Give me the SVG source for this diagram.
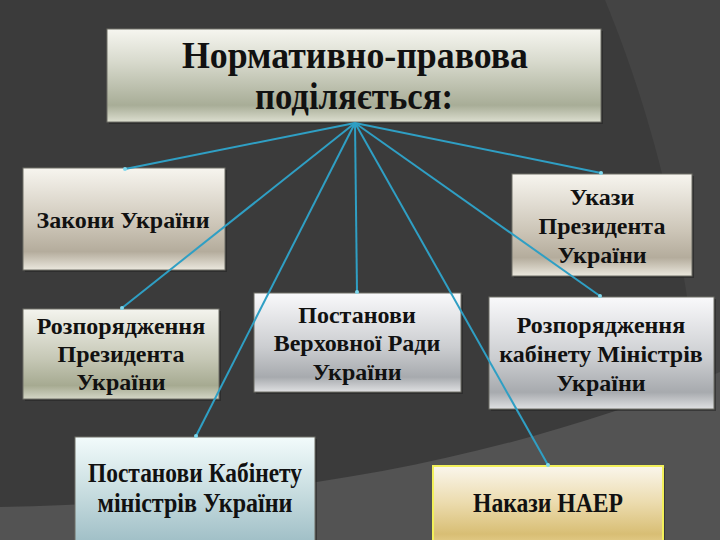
<svg xmlns="http://www.w3.org/2000/svg" width="720" height="540" viewBox="0 0 720 540">
  <defs>
    <linearGradient id="gTitle" x1="0" y1="0" x2="0" y2="1">
      <stop offset="0" stop-color="#f6f6f0"/>
      <stop offset="0.35" stop-color="#d8dacd"/>
      <stop offset="0.82" stop-color="#a8ad97"/>
      <stop offset="1" stop-color="#dcdecf"/>
    </linearGradient>
    <linearGradient id="gBeige" x1="0" y1="0" x2="0" y2="1">
      <stop offset="0" stop-color="#f7f5ef"/>
      <stop offset="0.55" stop-color="#cdc6b8"/>
      <stop offset="0.82" stop-color="#b4ac9c"/>
      <stop offset="1" stop-color="#ebe8de"/>
    </linearGradient>
    <linearGradient id="gGreen" x1="0" y1="0" x2="0" y2="1">
      <stop offset="0" stop-color="#f4f4ee"/>
      <stop offset="0.55" stop-color="#c6c8b6"/>
      <stop offset="0.85" stop-color="#a6aa91"/>
      <stop offset="1" stop-color="#d4d6c6"/>
    </linearGradient>
    <linearGradient id="gSilver" x1="0" y1="0" x2="0" y2="1">
      <stop offset="0" stop-color="#f9f9fb"/>
      <stop offset="0.55" stop-color="#cbcdd0"/>
      <stop offset="0.85" stop-color="#a7aaae"/>
      <stop offset="1" stop-color="#dfe0e2"/>
    </linearGradient>
    <linearGradient id="gBlue" x1="0" y1="0" x2="0" y2="1">
      <stop offset="0" stop-color="#f2fbfb"/>
      <stop offset="0.5" stop-color="#c8dde0"/>
      <stop offset="1" stop-color="#9cbcc4"/>
    </linearGradient>
    <linearGradient id="gGold" x1="0" y1="0" x2="0" y2="1">
      <stop offset="0" stop-color="#faf6ec"/>
      <stop offset="0.45" stop-color="#ecdcaf"/>
      <stop offset="0.85" stop-color="#d8be74"/>
      <stop offset="1" stop-color="#e6d08e"/>
    </linearGradient>
    <marker id="dot" viewBox="0 0 6 6" refX="3" refY="3" markerWidth="4" markerHeight="4" markerUnits="userSpaceOnUse">
      <circle cx="3" cy="3" r="3" fill="#7fd8ee"/>
    </marker>
  </defs>
  <style>
    .box { stroke: #6e6e66; stroke-width: 1; }
    .shadow { fill: #222222; opacity: 0.55; }
    .t { font-family: "Liberation Serif", "Times New Roman", serif; font-weight: bold; fill: #111111; text-anchor: middle; }
    .s24 { font-size: 24px; }
    .conn { stroke: #2f9fc4; stroke-width: 2; fill: none; marker-end: url(#dot); }
  </style>

  <!-- background -->
  <rect x="0" y="0" width="720" height="540" fill="#3b3b3b"/>
  <path d="M605,0 C642,90 680,210 698,380 L720,380 L720,0 Z" fill="#444444"/>
  <path d="M0,507 C250,502 480,470 720,372 L720,540 L0,540 Z" fill="#535353"/>

  <g id="title">
    <rect class="shadow" x="109" y="31" width="494" height="93"/>
    <rect class="box" x="107" y="29" width="494" height="93" fill="url(#gTitle)"/>
    <text class="t" x="355" y="68" font-size="37" textLength="346" lengthAdjust="spacingAndGlyphs">Нормативно-правова</text>
    <text class="t" x="354" y="109" font-size="37" textLength="198" lengthAdjust="spacingAndGlyphs">поділяється:</text>
  </g>

  <g id="zakony">
    <rect class="shadow" x="25" y="170" width="202" height="102"/>
    <rect class="box" x="23" y="168" width="202" height="102" fill="url(#gBeige)"/>
    <text class="t s24" x="123" y="228">Закони України</text>
  </g>

  <g id="ukazy">
    <rect class="shadow" x="514" y="176" width="180" height="102"/>
    <rect class="box" x="512" y="174" width="180" height="102" fill="url(#gBeige)"/>
    <text class="t s24" x="602" y="205">Укази</text>
    <text class="t s24" x="602" y="234">Президента</text>
    <text class="t s24" x="602" y="263">України</text>
  </g>

  <g id="rozp-prez">
    <rect class="shadow" x="25" y="311" width="196" height="90"/>
    <rect class="box" x="23" y="309" width="196" height="90" fill="url(#gGreen)"/>
    <text class="t s24" x="121" y="334">Розпорядження</text>
    <text class="t s24" x="121" y="362">Президента</text>
    <text class="t s24" x="121" y="390">України</text>
  </g>

  <g id="post-vr">
    <rect class="shadow" x="256" y="295" width="207" height="99"/>
    <rect class="box" x="254" y="293" width="207" height="99" fill="url(#gSilver)"/>
    <text class="t s24" x="357" y="323">Постанови</text>
    <text class="t s24" x="357" y="351">Верховної Ради</text>
    <text class="t s24" x="357" y="380">України</text>
  </g>

  <g id="rozp-km">
    <rect class="shadow" x="491" y="299" width="225" height="112"/>
    <rect class="box" x="489" y="297" width="225" height="112" fill="url(#gSilver)"/>
    <text class="t s24" x="601" y="333">Розпорядження</text>
    <text class="t s24" x="601" y="362">кабінету Міністрів</text>
    <text class="t s24" x="601" y="391">України</text>
  </g>

  <g id="post-km">
    <rect class="shadow" x="77" y="439" width="240" height="110"/>
    <rect class="box" x="75" y="437" width="240" height="110" fill="url(#gBlue)" stroke="#7fc8d8"/>
    <text class="t" x="195" y="482" font-size="27" textLength="214" lengthAdjust="spacingAndGlyphs">Постанови Кабінету</text>
    <text class="t" x="195" y="512" font-size="27" textLength="195" lengthAdjust="spacingAndGlyphs">міністрів України</text>
  </g>

  <g id="nakazy">
    <rect class="shadow" x="435" y="468" width="230" height="80"/>
    <rect x="433" y="466" width="230" height="80" fill="url(#gGold)" stroke="#f2f05a" stroke-width="2"/>
    <text class="t" x="548" y="512" font-size="27" textLength="150" lengthAdjust="spacingAndGlyphs">Накази НАЕР</text>
  </g>

  <g id="connectors">
    <line class="conn" x1="355" y1="123" x2="125" y2="169"/>
    <line class="conn" x1="355" y1="123" x2="122" y2="308"/>
    <line class="conn" x1="355" y1="123" x2="196" y2="436"/>
    <line class="conn" x1="355" y1="123" x2="357" y2="292"/>
    <line class="conn" x1="355" y1="123" x2="548" y2="465"/>
    <line class="conn" x1="355" y1="123" x2="600" y2="296"/>
    <line class="conn" x1="355" y1="123" x2="601" y2="173"/>
  </g>
</svg>
